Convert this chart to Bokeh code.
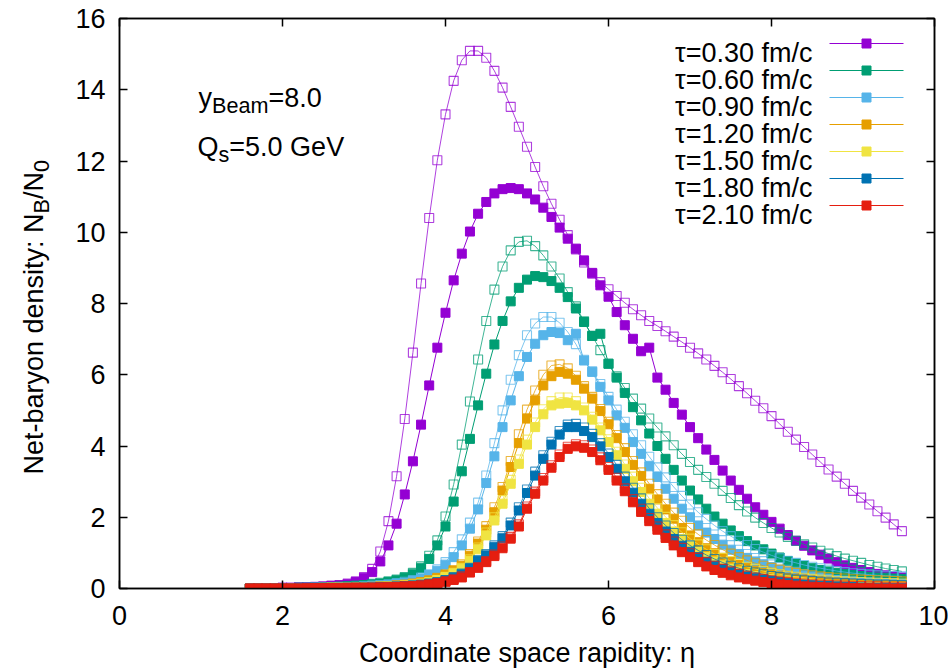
import math
from bokeh.plotting import figure
from bokeh.models import Range1d, Label, FixedTicker, LinearAxis
from bokeh.layouts import row
from bokeh.core.properties import value
from bokeh.embed import file_html
from bokeh.resources import INLINE

# ---------------- data ----------------
eta = [1.6, 1.7, 1.8, 1.9, 2.0, 2.1, 2.2, 2.3, 2.4, 2.5,
       2.6, 2.7, 2.8, 2.9, 3.0, 3.1, 3.2, 3.3, 3.4, 3.5,
       3.6, 3.7, 3.8, 3.9, 4.0, 4.1, 4.2, 4.3, 4.4, 4.5,
       4.6, 4.7, 4.8, 4.9, 5.0, 5.1, 5.2, 5.3, 5.4, 5.5,
       5.6, 5.7, 5.8, 5.9, 6.0, 6.1, 6.2, 6.3, 6.4, 6.5,
       6.6, 6.7, 6.8, 6.9, 7.0, 7.1, 7.2, 7.3, 7.4, 7.5,
       7.6, 7.7, 7.8, 7.9, 8.0, 8.1, 8.2, 8.3, 8.4, 8.5,
       8.6, 8.7, 8.8, 8.9, 9.0, 9.1, 9.2, 9.3, 9.4, 9.5,
       9.6]

tau_labels = ["τ=0.30 fm/c", "τ=0.60 fm/c", "τ=0.90 fm/c", "τ=1.20 fm/c",
              "τ=1.50 fm/c", "τ=1.80 fm/c", "τ=2.10 fm/c"]
colors = ["#9400d3", "#009e73", "#56b4e9", "#e69f00", "#f0e442", "#0072b2", "#e51e10"]

# open squares
open_030 = [0.00, 0.01, 0.01, 0.01, 0.02, 0.02, 0.03, 0.04, 0.05, 0.06,
            0.08, 0.10, 0.14, 0.20, 0.32, 0.55, 1.04, 1.89, 3.15, 4.76,
            6.62, 8.56, 10.40, 12.02, 13.31, 14.25, 14.83, 15.09, 15.09, 14.90,
            14.53, 14.06, 13.52, 12.96, 12.40, 11.83, 11.29, 10.80, 10.35, 9.92,
            9.52, 9.15, 8.84, 8.60, 8.40, 8.21, 8.02, 7.84, 7.67, 7.51,
            7.37, 7.22, 7.07, 6.92, 6.76, 6.60, 6.43, 6.25, 6.07, 5.88,
            5.68, 5.48, 5.27, 5.06, 4.84, 4.62, 4.40, 4.18, 3.97, 3.76,
            3.55, 3.34, 3.14, 2.94, 2.74, 2.55, 2.36, 2.17, 1.99, 1.80,
            1.61]
open_060 = [0.00, 0.00, 0.01, 0.01, 0.01, 0.01, 0.02, 0.02, 0.03, 0.03,
            0.04, 0.05, 0.06, 0.08, 0.10, 0.13, 0.16, 0.20, 0.25, 0.32,
            0.44, 0.62, 0.92, 1.35, 2.02, 2.92, 4.04, 5.25, 6.43, 7.51,
            8.39, 9.04, 9.49, 9.73, 9.76, 9.61, 9.35, 9.04, 8.70, 8.32,
            7.92, 7.50, 7.09, 6.69, 6.31, 5.96, 5.63, 5.33, 5.05, 4.77,
            4.52, 4.27, 4.02, 3.78, 3.55, 3.33, 3.13, 2.94, 2.74, 2.54,
            2.34, 2.16, 1.99, 1.84, 1.70, 1.57, 1.45, 1.34, 1.24, 1.15,
            1.06, 0.98, 0.91, 0.84, 0.78, 0.72, 0.66, 0.61, 0.56, 0.52,
            0.48]
open_090 = [0.00, 0.00, 0.00, 0.01, 0.01, 0.01, 0.01, 0.02, 0.02, 0.02,
            0.03, 0.03, 0.04, 0.05, 0.06, 0.08, 0.10, 0.12, 0.15, 0.19,
            0.24, 0.31, 0.40, 0.54, 0.74, 1.02, 1.38, 1.85, 2.41, 3.17,
            4.08, 5.00, 5.86, 6.55, 7.11, 7.44, 7.62, 7.62, 7.46, 7.20,
            6.86, 6.42, 6.10, 5.74, 5.38, 5.02, 4.68, 4.33, 4.02, 3.70,
            3.40, 3.12, 2.85, 2.60, 2.36, 2.14, 1.95, 1.77, 1.61, 1.47,
            1.34, 1.22, 1.11, 1.02, 0.93, 0.85, 0.78, 0.72, 0.66, 0.61,
            0.57, 0.53, 0.49, 0.46, 0.43, 0.41, 0.39, 0.37, 0.36, 0.35,
            0.34]
open_120 = [0.00, 0.00, 0.00, 0.00, 0.01, 0.01, 0.01, 0.01, 0.01, 0.02,
            0.02, 0.02, 0.03, 0.03, 0.04, 0.05, 0.06, 0.07, 0.09, 0.11,
            0.14, 0.18, 0.23, 0.30, 0.40, 0.52, 0.68, 0.97, 1.32, 1.75,
            2.28, 2.85, 3.58, 4.33, 5.02, 5.56, 6.00, 6.26, 6.29, 6.18,
            5.97, 5.68, 5.38, 5.04, 4.68, 4.31, 3.94, 3.58, 3.26, 2.94,
            2.65, 2.38, 2.13, 1.90, 1.70, 1.52, 1.36, 1.22, 1.09, 0.98,
            0.88, 0.79, 0.71, 0.64, 0.58, 0.53, 0.48, 0.44, 0.40, 0.37,
            0.34, 0.32, 0.30, 0.28, 0.26, 0.25, 0.24, 0.23, 0.22, 0.21,
            0.20]
open_150 = [0.00, 0.00, 0.00, 0.00, 0.00, 0.01, 0.01, 0.01, 0.01, 0.01,
            0.02, 0.02, 0.02, 0.03, 0.03, 0.04, 0.05, 0.06, 0.07, 0.09,
            0.11, 0.14, 0.18, 0.24, 0.33, 0.44, 0.58, 0.82, 1.15, 1.57,
            2.00, 2.48, 3.05, 3.62, 4.18, 4.66, 5.03, 5.26, 5.36, 5.36,
            5.26, 5.08, 4.82, 4.52, 4.19, 3.84, 3.48, 3.14, 2.83, 2.53,
            2.26, 2.01, 1.78, 1.58, 1.40, 1.24, 1.10, 0.97, 0.86, 0.77,
            0.69, 0.61, 0.55, 0.49, 0.44, 0.40, 0.36, 0.33, 0.30, 0.27,
            0.25, 0.23, 0.21, 0.20, 0.19, 0.18, 0.17, 0.16, 0.15, 0.15,
            0.14]
open_180 = [0.00, 0.00, 0.00, 0.00, 0.00, 0.00, 0.01, 0.01, 0.01, 0.01,
            0.01, 0.02, 0.02, 0.02, 0.03, 0.03, 0.04, 0.05, 0.06, 0.07,
            0.09, 0.11, 0.14, 0.18, 0.24, 0.32, 0.42, 0.58, 0.80, 0.97,
            1.21, 1.47, 1.85, 2.28, 2.78, 3.28, 3.74, 4.12, 4.42, 4.60,
            4.62, 4.52, 4.34, 4.08, 3.79, 3.47, 3.14, 2.83, 2.53, 2.25,
            2.00, 1.77, 1.56, 1.37, 1.21, 1.07, 0.94, 0.83, 0.73, 0.64,
            0.57, 0.50, 0.45, 0.40, 0.35, 0.32, 0.28, 0.25, 0.23, 0.21,
            0.19, 0.17, 0.16, 0.15, 0.14, 0.13, 0.12, 0.11, 0.11, 0.10,
            0.10]
open_210 = [0.00, 0.00, 0.00, 0.00, 0.00, 0.00, 0.00, 0.01, 0.01, 0.01,
            0.01, 0.01, 0.02, 0.02, 0.02, 0.03, 0.03, 0.04, 0.05, 0.06,
            0.07, 0.09, 0.12, 0.15, 0.20, 0.26, 0.34, 0.46, 0.60, 0.77,
            0.95, 1.18, 1.45, 1.80, 2.30, 2.72, 3.10, 3.46, 3.76, 3.98,
            4.05, 4.02, 3.90, 3.68, 3.41, 3.11, 2.81, 2.51, 2.24, 1.98,
            1.74, 1.52, 1.32, 1.14, 0.99, 0.86, 0.74, 0.64, 0.55, 0.48,
            0.41, 0.36, 0.31, 0.27, 0.23, 0.20, 0.18, 0.16, 0.14, 0.12,
            0.11, 0.10, 0.09, 0.08, 0.07, 0.07, 0.06, 0.06, 0.05, 0.05,
            0.05]

# filled squares
filled_030 = [0.00, 0.01, 0.01, 0.01, 0.02, 0.02, 0.03, 0.03, 0.04, 0.05,
              0.07, 0.09, 0.12, 0.18, 0.29, 0.46, 0.76, 1.21, 1.82, 2.64,
              3.57, 4.60, 5.70, 6.76, 7.74, 8.65, 9.40, 10.02, 10.52, 10.85,
              11.09, 11.21, 11.24, 11.21, 11.09, 10.92, 10.69, 10.43, 10.13, 9.82,
              9.54, 9.21, 8.86, 8.51, 8.19, 7.76, 7.39, 7.01, 6.66, 6.76,
              5.92, 5.58, 5.21, 4.88, 4.53, 4.22, 3.90, 3.61, 3.31, 3.03,
              2.77, 2.52, 2.28, 2.07, 1.87, 1.68, 1.50, 1.34, 1.20, 1.07,
              0.95, 0.84, 0.74, 0.65, 0.58, 0.52, 0.46, 0.41, 0.37, 0.34,
              0.31]
filled_060 = [0.00, 0.00, 0.01, 0.01, 0.01, 0.01, 0.02, 0.02, 0.02, 0.03,
              0.04, 0.05, 0.06, 0.07, 0.09, 0.11, 0.14, 0.18, 0.23, 0.30,
              0.40, 0.57, 0.83, 1.21, 1.74, 2.44, 3.29, 4.20, 5.14, 6.03,
              6.85, 7.51, 8.06, 8.44, 8.67, 8.77, 8.74, 8.63, 8.44, 8.18,
              7.86, 7.48, 7.09, 7.15, 6.31, 5.92, 5.49, 5.09, 4.72, 4.35,
              4.00, 3.64, 3.33, 3.03, 2.75, 2.50, 2.24, 2.02, 1.82, 1.63,
              1.47, 1.33, 1.21, 1.10, 0.98, 0.87, 0.77, 0.70, 0.63, 0.57,
              0.52, 0.48, 0.44, 0.41, 0.38, 0.35, 0.33, 0.31, 0.29, 0.28,
              0.27]
filled_090 = [0.00, 0.00, 0.00, 0.00, 0.01, 0.01, 0.01, 0.01, 0.02, 0.02,
              0.02, 0.03, 0.03, 0.04, 0.05, 0.06, 0.08, 0.10, 0.13, 0.16,
              0.21, 0.28, 0.38, 0.50, 0.67, 0.88, 1.21, 1.68, 2.22, 2.96,
              3.71, 4.53, 5.28, 5.96, 6.50, 6.87, 7.11, 7.20, 7.17, 6.97,
              7.15, 6.40, 6.08, 5.66, 5.28, 4.86, 4.51, 4.11, 3.78, 3.43,
              3.13, 2.80, 2.52, 2.24, 2.00, 1.77, 1.57, 1.39, 1.23, 1.09,
              0.97, 0.86, 0.76, 0.68, 0.60, 0.53, 0.47, 0.42, 0.37, 0.33,
              0.30, 0.27, 0.24, 0.22, 0.20, 0.18, 0.17, 0.16, 0.15, 0.14,
              0.13]
filled_120 = [0.00, 0.00, 0.00, 0.00, 0.00, 0.01, 0.01, 0.01, 0.01, 0.01,
              0.02, 0.02, 0.02, 0.03, 0.04, 0.04, 0.05, 0.07, 0.08, 0.10,
              0.13, 0.17, 0.22, 0.29, 0.38, 0.49, 0.64, 0.92, 1.26, 1.65,
              2.14, 2.75, 3.41, 4.08, 4.77, 5.28, 5.70, 5.96, 6.08, 6.03,
              5.86, 5.61, 5.33, 4.98, 4.61, 4.22, 3.83, 3.47, 3.16, 2.80,
              2.50, 2.22, 1.96, 1.70, 1.49, 1.30, 1.13, 0.99, 0.86, 0.75,
              0.66, 0.58, 0.50, 0.44, 0.39, 0.34, 0.30, 0.27, 0.24, 0.21,
              0.19, 0.17, 0.15, 0.14, 0.13, 0.12, 0.11, 0.10, 0.09, 0.09,
              0.08]
filled_150 = [0.00, 0.00, 0.00, 0.00, 0.00, 0.00, 0.01, 0.01, 0.01, 0.01,
              0.01, 0.02, 0.02, 0.02, 0.03, 0.04, 0.04, 0.05, 0.06, 0.08,
              0.10, 0.13, 0.17, 0.24, 0.32, 0.42, 0.55, 0.78, 1.10, 1.49,
              1.91, 2.38, 2.94, 3.50, 4.04, 4.53, 4.89, 5.14, 5.19, 5.21,
              5.14, 5.00, 4.74, 4.44, 4.11, 3.74, 3.36, 3.01, 2.71, 2.38,
              2.10, 1.84, 1.60, 1.39, 1.20, 1.03, 0.89, 0.76, 0.65, 0.56,
              0.48, 0.41, 0.35, 0.30, 0.26, 0.22, 0.19, 0.17, 0.15, 0.13,
              0.11, 0.10, 0.09, 0.08, 0.07, 0.06, 0.06, 0.05, 0.05, 0.04,
              0.04]
filled_180 = [0.00, 0.00, 0.00, 0.00, 0.00, 0.00, 0.00, 0.01, 0.01, 0.01,
              0.01, 0.01, 0.02, 0.02, 0.02, 0.03, 0.04, 0.04, 0.05, 0.06,
              0.08, 0.10, 0.13, 0.17, 0.23, 0.30, 0.40, 0.56, 0.77, 0.93,
              1.16, 1.41, 1.77, 2.19, 2.68, 3.17, 3.64, 4.04, 4.32, 4.53,
              4.53, 4.42, 4.25, 3.99, 3.69, 3.36, 3.01, 2.69, 2.38, 2.10,
              1.84, 1.60, 1.39, 1.20, 1.03, 0.88, 0.75, 0.64, 0.55, 0.47,
              0.40, 0.34, 0.29, 0.25, 0.21, 0.18, 0.15, 0.13, 0.11, 0.09,
              0.08, 0.07, 0.06, 0.05, 0.04, 0.03, 0.02, 0.02, 0.02, 0.01,
              0.01]
filled_210 = [0.00, 0.00, 0.00, 0.00, 0.00, 0.00, 0.00, 0.00, 0.01, 0.01,
              0.01, 0.01, 0.01, 0.02, 0.02, 0.02, 0.03, 0.03, 0.04, 0.05,
              0.06, 0.08, 0.11, 0.14, 0.19, 0.24, 0.31, 0.45, 0.58, 0.74,
              0.91, 1.13, 1.40, 1.74, 2.24, 2.66, 3.03, 3.39, 3.69, 3.92,
              3.99, 3.95, 3.83, 3.60, 3.33, 3.03, 2.73, 2.42, 2.15, 1.89,
              1.65, 1.42, 1.21, 1.02, 0.88, 0.74, 0.62, 0.52, 0.44, 0.37,
              0.31, 0.26, 0.22, 0.18, 0.15, 0.12, 0.10, 0.08, 0.06, 0.05,
              0.04, 0.03, 0.02, 0.02, 0.01, 0.01, 0.01, 0.00, 0.00, 0.00,
              0.00]

open_series = [open_030, open_060, open_090, open_120, open_150, open_180, open_210]
filled_series = [filled_030, filled_060, filled_090, filled_120, filled_150, filled_180, filled_210]

x_ticks = [0, 2, 4, 6, 8, 10]
y_ticks = [0, 2, 4, 6, 8, 10, 12, 14, 16]
X_MIN, X_MAX, Y_MIN, Y_MAX = 0, 10, 0, 16

x_title = "Coordinate space rapidity: η"
y_title_parts = ["Net-baryon density: N", "B", "/N", "0"]   # normal, sub, normal, sub

# ---------------- layout / style ----------------
FONT = "Liberation Sans"
FS = 27.0
SUB = 21.6
SUB_OFF = 8
TICK = 8                           # tick length, px
PAGE_H = 671
STRIP_W = 60                       # left strip holding the rotated y title
FRAME_L, FRAME_T, FRAME_W, FRAME_H = 119, 18, 815, 570   # frame position in page pixels

def dx(px):
    return X_MIN + (px - FRAME_L) / FRAME_W * (X_MAX - X_MIN)

def dy(py):
    return Y_MIN + (FRAME_T + FRAME_H - py) / FRAME_H * (Y_MAX - Y_MIN)

ARIAL = {'N': 722, 'e': 556, 't': 278, '-': 333, 'b': 556, 'a': 556, 'r': 333, 'y': 500,
         'o': 556, 'n': 556, ' ': 278, 'd': 556, 's': 500, 'i': 222, ':': 278, 'B': 667,
         'm': 833, '=': 584, '8': 556, '.': 278, '0': 556, 'Q': 778, '5': 556, 'G': 778,
         'V': 667, '/': 278}

def tw(s, size):
    return sum(ARIAL.get(c, 556) for c in s) / 1000.0 * size

# ---------- strip with rotated y-axis title ----------
ys = figure(frame_width=STRIP_W, frame_height=PAGE_H, x_range=Range1d(0, STRIP_W),
            y_range=Range1d(0, PAGE_H), output_backend="svg", toolbar_location=None,
            min_border=0, min_border_left=0, min_border_right=0, min_border_top=0,
            min_border_bottom=0, outline_line_color=None)
ys.axis.visible = False
ys.grid.visible = False

bx = 33
yy = 456.0
for i, part in enumerate(y_title_parts):
    size = FS if i % 2 == 0 else SUB
    xoff = 0 if i % 2 == 0 else SUB_OFF
    ys.text(x=[bx + xoff], y=[PAGE_H - yy], text=[part], angle=math.pi / 2,
            text_font=value(FONT), text_font_size=value(f"{size}px"),
            text_align="left", text_baseline="alphabetic", text_color="black")
    yy -= tw(part, size)

# ---------- main plot ----------
p = figure(frame_width=FRAME_W, frame_height=FRAME_H,
           x_range=Range1d(X_MIN, X_MAX), y_range=Range1d(Y_MIN, Y_MAX),
           output_backend="svg", toolbar_location=None,
           min_border_left=FRAME_L - STRIP_W, min_border_right=14,
           min_border_top=FRAME_T, min_border_bottom=PAGE_H - FRAME_T - FRAME_H,
           background_fill_color="white", border_fill_color="white")
p.grid.visible = False
p.outline_line_color = "black"
p.outline_line_width = 1.5

bottom_ax = p.below[0]
left_ax = p.left[0]

# mirrored axes on top and right: ticks + rule only, empty tick labels
top_ax = LinearAxis(major_label_overrides={t: "" for t in x_ticks})
right_ax = LinearAxis(major_label_overrides={t: "" for t in y_ticks})
p.add_layout(top_ax, "above")
p.add_layout(right_ax, "right")

for ax, ticks in ((bottom_ax, x_ticks), (left_ax, y_ticks), (top_ax, x_ticks), (right_ax, y_ticks)):
    ax.ticker = FixedTicker(ticks=ticks)
    ax.major_tick_in = TICK
    ax.major_tick_out = 0
    ax.minor_tick_line_color = None
    ax.major_tick_line_color = "black"
    ax.major_tick_line_width = 1.5
    ax.axis_line_color = "black"
    ax.axis_line_width = 1.5
    ax.major_label_text_font = FONT
    ax.major_label_text_font_size = f"{FS}px"
    ax.major_label_text_color = "black"

for ax in (top_ax, right_ax):
    ax.major_label_text_font_size = "8px"
    ax.major_label_standoff = 0

bottom_ax.major_label_standoff = 17
left_ax.major_label_standoff = 14
bottom_ax.axis_label = x_title
bottom_ax.axis_label_text_font = FONT
bottom_ax.axis_label_text_font_size = f"{FS}px"
bottom_ax.axis_label_text_font_style = "normal"
bottom_ax.axis_label_text_color = "black"
bottom_ax.axis_label_standoff = 10

# ---------------- curves ----------------
for k in range(7):
    c = colors[k]
    p.line(eta, open_series[k], line_color=c, line_width=1, line_alpha=0.75)
    p.scatter(eta, open_series[k], marker="square", size=9, fill_color=None,
              line_color=c, line_width=1.1, line_alpha=0.75)
    p.line(eta, filled_series[k], line_color=c, line_width=1)
    p.scatter(eta, filled_series[k], marker="square", size=9, fill_color=c, line_color=c)

# ---------------- legend (gnuplot style: text left, sample right) ----------------
LEG_TEXT_R, LEG_L0, LEG_L1, LEG_M = 812, 829, 903, 866
LEG_Y0, LEG_DY = 43, 27
for k in range(7):
    ry = LEG_Y0 + LEG_DY * k
    p.add_layout(Label(x=dx(LEG_TEXT_R), y=dy(ry + 9.7), text=tau_labels[k],
                       text_font=FONT, text_font_size=f"{FS}px", text_align="right",
                       text_baseline="alphabetic", text_color="black"))
    p.line([dx(LEG_L0), dx(LEG_L1)], [dy(ry), dy(ry)], line_color=colors[k], line_width=1)
    p.scatter([dx(LEG_M)], [dy(ry)], marker="square", size=9, fill_color=colors[k], line_color=colors[k])

# ---------------- annotations ----------------
def lab(px, py, text, size):
    p.add_layout(Label(x=dx(px), y=dy(py), text=text, text_font=FONT,
                       text_font_size=f"{size}px", text_align="left",
                       text_baseline="alphabetic", text_color="black"))

x0 = 198
lab(x0, 97, "y", FS)
x1 = x0 + tw("y", FS)
lab(x1, 97 + SUB_OFF, "Beam", SUB)
x2 = x1 + tw("Beam", SUB)
lab(x2, 97, "=8.0", FS)

x0 = 197
lab(x0, 146, "Q", FS)
x1 = x0 + tw("Q", FS)
lab(x1, 146 + SUB_OFF, "s", SUB)
x2 = x1 + tw("s", SUB)
lab(x2, 146, "=5.0 GeV", FS)

layout = row(ys, p)
open("out.html", "w").write(file_html(layout, INLINE))
